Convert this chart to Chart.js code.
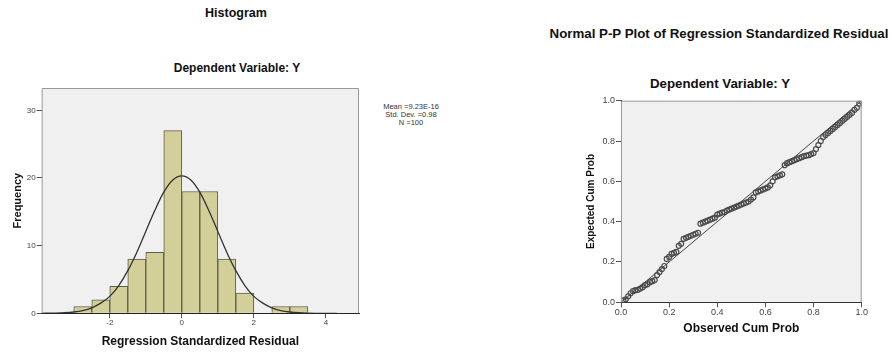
<!DOCTYPE html>
<html>
<head>
<meta charset="utf-8">
<script src="https://cdn.jsdelivr.net/npm/chart.js@4.4.1/dist/chart.umd.min.js"></script>
<style>
  html, body { margin: 0; padding: 0; background: #fff; }
  body { width: 892px; height: 352px; position: relative; overflow: hidden; font-family: "Liberation Sans", Arial, sans-serif; }
  .ttl { position: absolute; font-weight: 700; color: #111; white-space: nowrap; transform: translate(-50%, -50%); }
  .stats { position: absolute; left: 411px; top: 103px; transform: translateX(-50%); font-size: 7.5px; line-height: 8px; text-align: center; color: #333; white-space: nowrap; }
  #hist-wrap { position: absolute; left: 0; top: 0; width: 450px; height: 352px; }
  #pp-wrap { position: absolute; left: 450px; top: 0; width: 442px; height: 352px; }
</style>
</head>
<body>
  <div class="ttl" style="left:236px; top:13px; font-size:12.5px;">Histogram</div>
  <div class="ttl" style="left:237px; top:68px; font-size:12px;">Dependent Variable: Y</div>
  <div class="stats">Mean =9.23E-16<br>Std. Dev. =0.98<br>N =100</div>

  <div class="ttl" style="left:719px; top:33px; font-size:13.3px;">Normal P-P Plot of Regression Standardized Residual</div>
  <div class="ttl" style="left:720px; top:83px; font-size:13.3px;">Dependent Variable: Y</div>

  <div id="hist-wrap"><canvas id="hist"></canvas></div>
  <div id="pp-wrap"><canvas id="pp"></canvas></div>

<script>
// ── Histogram of residuals ───────────────────────────────────
const binCenters = [-2.75, -2.25, -1.75, -1.25, -0.75, -0.25, 0.25, 0.75, 1.25, 1.75, 2.25, 2.75, 3.25];
const binCounts  = [1, 2, 4, 8, 9, 27, 18, 18, 8, 3, 0, 1, 1];

// normal curve
const curveX = [-3.9, -3.5, -3.25, -3, -2.75, -2.5, -2.25, -2, -1.75, -1.5, -1.25, -1, -0.75, -0.5, -0.25, 0,
                0.25, 0.5, 0.75, 1, 1.25, 1.5, 1.75, 2, 2.25, 2.5, 2.75, 3, 3.25, 3.5, 3.9, 4.3];
const curveY = [0, 0.03, 0.08, 0.19, 0.4, 0.8, 1.5, 2.5, 4.1, 6.3, 9.0, 12.1, 15.2, 17.9, 19.7, 20.3,
                19.7, 17.9, 15.2, 12.1, 9.0, 6.3, 4.1, 2.5, 1.5, 0.8, 0.4, 0.19, 0.08, 0.03, 0, 0];

const histXTicks = [-2, 0, 2, 4];
const histYTicks = [0, 10, 20, 30];

// ── Normal P-P plot ──────────────────────────────────────────
const ppObserved = [
  0.01, 0.02, 0.03, 0.04, 0.05, 0.06, 0.07, 0.08, 0.09, 0.10,
  0.11, 0.12, 0.13, 0.14, 0.15, 0.16, 0.17, 0.18, 0.19, 0.20,
  0.21, 0.22, 0.23, 0.24, 0.25, 0.26, 0.27, 0.28, 0.29, 0.30,
  0.31, 0.32, 0.33, 0.34, 0.35, 0.36, 0.37, 0.38, 0.39, 0.40,
  0.41, 0.42, 0.43, 0.44, 0.45, 0.46, 0.47, 0.48, 0.49, 0.50,
  0.51, 0.52, 0.53, 0.54, 0.55, 0.56, 0.57, 0.58, 0.59, 0.60,
  0.61, 0.62, 0.63, 0.64, 0.65, 0.66, 0.67, 0.68, 0.69, 0.70,
  0.71, 0.72, 0.73, 0.74, 0.75, 0.76, 0.77, 0.78, 0.79, 0.80,
  0.81, 0.82, 0.83, 0.84, 0.85, 0.86, 0.87, 0.88, 0.89, 0.90,
  0.91, 0.92, 0.93, 0.94, 0.95, 0.96, 0.97, 0.98, 0.99, 1.00
];
const ppExpected = [
  0.010, 0.015, 0.030, 0.045, 0.055, 0.060, 0.062, 0.068, 0.075, 0.085,
  0.090, 0.100, 0.105, 0.110, 0.135, 0.150, 0.165, 0.180, 0.215, 0.225,
  0.240, 0.245, 0.250, 0.280, 0.290, 0.315, 0.320, 0.325, 0.330, 0.335,
  0.340, 0.345, 0.390, 0.395, 0.400, 0.405, 0.410, 0.415, 0.420, 0.435,
  0.440, 0.445, 0.448, 0.455, 0.460, 0.465, 0.470, 0.475, 0.480, 0.485,
  0.490, 0.495, 0.500, 0.510, 0.520, 0.545, 0.550, 0.555, 0.560, 0.565,
  0.570, 0.580, 0.600, 0.620, 0.625, 0.630, 0.635, 0.680, 0.690, 0.695,
  0.700, 0.705, 0.710, 0.715, 0.720, 0.725, 0.728, 0.730, 0.735, 0.740,
  0.760, 0.780, 0.800, 0.820, 0.830, 0.840, 0.850, 0.860, 0.870, 0.880,
  0.890, 0.900, 0.910, 0.920, 0.930, 0.940, 0.955, 0.965, 0.985, 0.995
];
const diagX = [0, 1];
const diagY = [0, 1];
const ppTicks = [0, 0.2, 0.4, 0.6, 0.8, 1.0];

const FAMILY = '"Liberation Sans", Arial, sans-serif';
const TICK_COLOR = '#444';

// grey plot background + frame, like the SPSS output
const plotFrame = {
  id: 'plotFrame',
  beforeDraw(chart) {
    const { ctx, chartArea: a } = chart;
    ctx.save();
    ctx.fillStyle = '#f0f0f0';
    ctx.fillRect(a.left, a.top, a.right - a.left, a.bottom - a.top);
    ctx.restore();
  },
  afterDraw(chart) {
    const { ctx, chartArea: a } = chart;
    ctx.save();
    ctx.strokeStyle = '#9a9a9a';
    ctx.lineWidth = 1;
    ctx.beginPath();
    ctx.moveTo(a.left + 0.5, a.bottom);
    ctx.lineTo(a.left + 0.5, a.top + 0.5);
    ctx.lineTo(a.right - 0.5, a.top + 0.5);
    ctx.lineTo(a.right - 0.5, a.bottom);
    ctx.stroke();
    ctx.restore();
  }
};

function fixedTicks(list) {
  return scale => { scale.ticks = list.map(v => ({ value: v })); };
}

// ── Histogram chart ──
new Chart(document.getElementById('hist'), {
  type: 'bar',
  data: {
    datasets: [
      {
        type: 'line',
        data: curveX.map((x, i) => ({ x, y: curveY[i] })),
        borderColor: '#333',
        borderWidth: 1.3,
        pointRadius: 0,
        cubicInterpolationMode: 'monotone',
        fill: false,
        order: 0
      },
      {
        type: 'bar',
        data: binCenters.map((x, i) => ({ x, y: binCounts[i] })),
        backgroundColor: '#d3cf98',
        borderColor: '#5c5c50',
        borderWidth: 1,
        barPercentage: 1,
        categoryPercentage: 1,
        order: 1
      }
    ]
  },
  options: {
    responsive: true,
    maintainAspectRatio: false,
    animation: false,
    layout: { padding: { left: 0, right: 91, top: 88, bottom: 0 } },
    plugins: { legend: { display: false }, tooltip: { enabled: false } },
    scales: {
      x: {
        type: 'linear',
        min: -3.89,
        max: 4.92,
        offset: false,
        afterBuildTicks: fixedTicks(histXTicks),
        afterFit: s => { s.height = 38.7; },
        grid: { offset: false, drawOnChartArea: false, drawTicks: true, tickLength: 5, tickColor: '#555' },
        border: { display: true, color: '#222', width: 1 },
        ticks: { font: { family: FAMILY, size: 8 }, color: TICK_COLOR, padding: 0, maxRotation: 0 },
        title: { display: true, text: 'Regression Standardized Residual', font: { family: FAMILY, size: 12, weight: 'bold' }, color: '#111', padding: { top: 0, bottom: 2.8 } }
      },
      y: {
        min: 0,
        max: 33.3,
        afterBuildTicks: fixedTicks(histYTicks),
        afterFit: s => { s.width = 41.7; },
        grid: { drawOnChartArea: false, drawTicks: true, tickLength: 5, tickColor: '#555' },
        border: { display: false },
        ticks: { font: { family: FAMILY, size: 8 }, color: TICK_COLOR, padding: 1 },
        title: { display: true, text: 'Frequency', font: { family: FAMILY, size: 11, weight: 'bold' }, color: '#111', padding: { top: 11.4, bottom: 0 } }
      }
    }
  },
  plugins: [plotFrame]
});

// ── P-P chart ──
new Chart(document.getElementById('pp'), {
  type: 'scatter',
  data: {
    datasets: [
      {
        type: 'line',
        data: diagX.map((x, i) => ({ x, y: diagY[i] })),
        borderColor: '#444',
        borderWidth: 1,
        pointRadius: 0,
        fill: false
      },
      {
        data: ppObserved.map((x, i) => ({ x, y: ppExpected[i] })),
        pointRadius: 2.5,
        pointBorderWidth: 1.2,
        borderColor: '#4a4a4a',
        backgroundColor: 'rgba(0,0,0,0)',
        pointBackgroundColor: 'rgba(0,0,0,0)'
      }
    ]
  },
  options: {
    responsive: true,
    maintainAspectRatio: false,
    animation: false,
    layout: { padding: { left: 130, right: 30.3, top: 100.7, bottom: 0 } },
    plugins: { legend: { display: false }, tooltip: { enabled: false } },
    scales: {
      x: {
        type: 'linear',
        min: 0,
        max: 1,
        afterBuildTicks: fixedTicks(ppTicks),
        afterFit: s => { s.height = 49.7; },
        grid: { drawOnChartArea: false, drawTicks: true, tickLength: 5, tickColor: '#555' },
        border: { display: true, color: '#333', width: 1 },
        ticks: { font: { family: FAMILY, size: 9 }, color: TICK_COLOR, padding: 0, maxRotation: 0, callback: v => v.toFixed(1) },
        title: { display: true, text: 'Observed Cum Prob', font: { family: FAMILY, size: 12, weight: 'bold' }, color: '#111', padding: { top: 0, bottom: 16 } }
      },
      y: {
        min: 0,
        max: 1,
        afterBuildTicks: fixedTicks(ppTicks),
        afterFit: s => { s.width = 41; },
        grid: { drawOnChartArea: false, drawTicks: true, tickLength: 5, tickColor: '#555' },
        border: { display: true, color: '#333', width: 1 },
        ticks: { font: { family: FAMILY, size: 9 }, color: TICK_COLOR, padding: 1, callback: v => v.toFixed(1) },
        title: { display: true, text: 'Expected Cum Prob', font: { family: FAMILY, size: 10, weight: 'bold' }, color: '#111', padding: { top: 5.4, bottom: 0 } }
      }
    }
  },
  plugins: [plotFrame]
});
</script>
</body>
</html>
